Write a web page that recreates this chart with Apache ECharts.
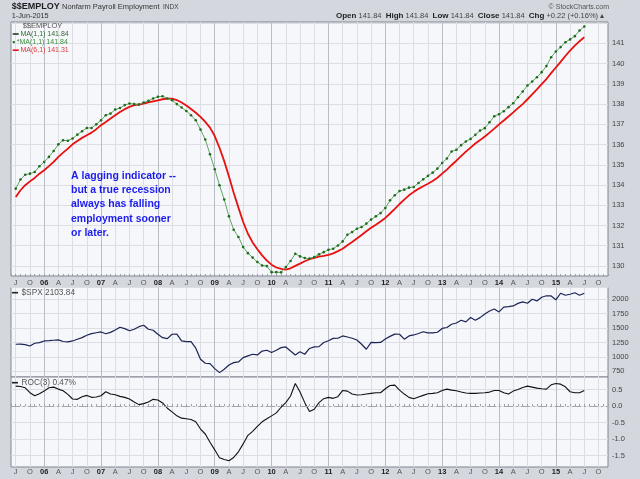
<!DOCTYPE html>
<html>
<head>
<meta charset="utf-8">
<title>$$EMPLOY Nonfarm Payroll Employment</title>
<script src="https://cdn.jsdelivr.net/npm/echarts@6/dist/echarts.min.js"></script>
<style>
  html, body { margin: 0; padding: 0; background: #d4d7de; }
  #chart { width: 640px; height: 479px; }
</style>
</head>
<body>
<div id="chart"></div>
<script>
// monthly values, first point sits on the Jul 2005 grid line, last on Jul 2015
const employment = [
  133.82, 134.27, 134.51, 134.56, 134.64, 134.93, 135.14, 135.39, 135.68, 136.01,
  136.21, 136.19, 136.30, 136.49, 136.66, 136.82, 136.82, 137.00, 137.20, 137.45,
  137.53, 137.73, 137.81, 137.95, 138.03, 138.00, 137.98, 138.08, 138.16, 138.28,
  138.36, 138.39, 138.28, 138.19, 138.00, 137.83, 137.66, 137.45, 137.20, 136.74,
  136.25, 135.52, 134.78, 133.99, 133.28, 132.45, 131.79, 131.43, 130.93, 130.63,
  130.41, 130.19, 130.02, 129.99, 129.69, 129.69, 129.68, 129.94, 130.24, 130.60,
  130.47, 130.39, 130.36, 130.44, 130.57, 130.68, 130.80, 130.85, 131.01, 131.21,
  131.54, 131.67, 131.84, 131.92, 132.09, 132.29, 132.45, 132.61, 132.86, 133.24,
  133.49, 133.70, 133.77, 133.87, 133.90, 134.10, 134.28, 134.45, 134.61, 134.81,
  135.09, 135.31, 135.66, 135.74, 135.97, 136.15, 136.28, 136.48, 136.69, 136.81,
  137.10, 137.40, 137.50, 137.65, 137.85, 138.04, 138.34, 138.62, 138.92, 139.12,
  139.33, 139.58, 139.88, 140.32, 140.60, 140.82, 141.06, 141.20, 141.36, 141.64,
  141.84
];

const ma6 = [
  133.41, 133.74, 133.99, 134.18, 134.35, 134.56, 134.73, 134.93, 135.14, 135.39,
  135.60, 135.80, 136.01, 136.18, 136.33, 136.46, 136.59, 136.76, 136.96, 137.12,
  137.29, 137.45, 137.61, 137.75, 137.86, 137.95, 137.98, 138.03, 138.08, 138.14,
  138.19, 138.24, 138.27, 138.27, 138.20, 138.08, 137.93, 137.76, 137.57, 137.37,
  137.12, 136.84, 136.42, 135.84, 135.18, 134.42, 133.62, 132.88, 132.17, 131.59,
  131.16, 130.82, 130.52, 130.26, 130.06, 129.92, 129.85, 129.81, 129.88, 130.00,
  130.11, 130.23, 130.33, 130.40, 130.46, 130.49, 130.54, 130.62, 130.73, 130.85,
  131.02, 131.18, 131.35, 131.53, 131.71, 131.89, 132.04, 132.20, 132.37, 132.59,
  132.82, 133.06, 133.28, 133.49, 133.66, 133.81, 133.94, 134.06, 134.20, 134.36,
  134.56, 134.76, 134.99, 135.20, 135.43, 135.65, 135.85, 136.05, 136.22, 136.40,
  136.59, 136.79, 137.00, 137.19, 137.39, 137.59, 137.80, 138.00, 138.24, 138.48,
  138.73, 138.99, 139.24, 139.53, 139.81, 140.09, 140.38, 140.65, 140.89, 141.11,
  141.31
];

const spx = [
  1219, 1220, 1212, 1189, 1236, 1247, 1276, 1281, 1288, 1295,
  1266, 1259, 1276, 1305, 1333, 1375, 1403, 1418, 1432, 1400,
  1425, 1465, 1514, 1490, 1452, 1479, 1524, 1549, 1479, 1462,
  1392, 1333, 1316, 1392, 1395, 1276, 1264, 1264, 1150, 958,
  889, 882, 795, 726, 785, 859, 899, 911, 986, 1016,
  1045, 1033, 1100, 1115, 1075, 1115, 1160, 1172, 1102, 1033,
  1088, 1045, 1145, 1172, 1178, 1250, 1280, 1320, 1323, 1363,
  1345, 1322, 1292, 1219, 1132, 1250, 1247, 1250, 1308, 1355,
  1395, 1392, 1307, 1363, 1380, 1405, 1435, 1415, 1415, 1427,
  1493, 1510, 1566, 1588, 1635, 1606, 1683, 1635, 1681, 1745,
  1795, 1830, 1780, 1862, 1872, 1884, 1928, 1955, 1931, 2000,
  1971, 2035, 2060, 2057, 1990, 2104, 2069, 2087, 2112, 2069,
  2103.84
];

const roc = [
  0.60, 0.59, 0.55, 0.40, 0.31, 0.37, 0.45, 0.55, 0.57, 0.51,
  0.46, 0.35, 0.21, 0.20, 0.28, 0.32, 0.26, 0.27, 0.31, 0.43,
  0.36, 0.34, 0.29, 0.26, 0.21, 0.12, 0.04, 0.07, 0.12, 0.20,
  0.18, 0.09, -0.07, -0.18, -0.30, -0.37, -0.39, -0.41, -0.48, -0.70,
  -0.85, -1.10, -1.33, -1.57, -1.62, -1.66, -1.56, -1.39, -1.15, -0.89,
  -0.77, -0.62, -0.48, -0.39, -0.30, -0.21, -0.04, 0.10, 0.30, 0.68,
  0.42, 0.10, -0.17, -0.10, 0.10, 0.22, 0.26, 0.23, 0.28, 0.47,
  0.45, 0.36, 0.33, 0.34, 0.36, 0.38, 0.40, 0.40, 0.52, 0.62,
  0.63, 0.48, 0.36, 0.26, 0.22, 0.27, 0.32, 0.37, 0.38, 0.40,
  0.47, 0.51, 0.48, 0.46, 0.42, 0.39, 0.38, 0.38, 0.39, 0.40,
  0.42, 0.47, 0.47, 0.40, 0.36, 0.45, 0.50, 0.56, 0.60, 0.57,
  0.54, 0.52, 0.51, 0.64, 0.68, 0.66, 0.58, 0.43, 0.40, 0.40,
  0.47
];

// tick labels on the right-hand axes
const mainTicks = [130, 131, 132, 133, 134, 135, 136, 137, 138, 139, 140, 141];
const spxTicks = [750, 1000, 1250, 1500, 1750, 2000];
const rocTicks = [-1.5, -1.0, -0.5, 0.0, 0.5];
const monthLetters = { 4: 'A', 7: 'J', 10: 'O' };

// axis runs Jun 2005 .. Dec 2015, one category a month
const months = [];
for (let i = 0; i < 127; i++) {
  const m = (5 + i) % 12;
  const y = 2005 + Math.floor((5 + i) / 12);
  months.push(y + '-' + String(m + 1).padStart(2, '0'));
}
const pad = (arr) => [null].concat(arr);

const FONT = '"Liberation Sans", Arial, sans-serif';
const GRID = '#dcdee4';
const YEAR_GRID = '#b9bdc6';
const NONE = 'rgba(0,0,0,0)';

function isQuarter(idx) {
  return ((5 + idx) % 12) % 3 === 0;
}

function quarterLabel(value) {
  const parts = value.split('-');
  const y = parts[0], m = Number(parts[1]);
  if (m === 1) return '{yr|' + y.slice(2) + '}';
  return monthLetters[m] || '';
}

function near(v, list) {
  return list.some((t) => Math.abs(t - v) < 1e-6);
}

function monthAxis(gridIndex, withLabels, margin) {
  return {
    type: 'category',
    gridIndex: gridIndex,
    data: months,
    boundaryGap: false,
    axisLine: { show: false },
    axisTick: {
      show: withLabels, inside: true, length: 2, interval: 0,
      lineStyle: { color: '#9aa0a8' }
    },
    axisLabel: {
      show: withLabels,
      interval: (i) => isQuarter(i),
      formatter: quarterLabel,
      margin: margin,
      fontSize: 7.5,
      fontFamily: FONT,
      color: '#555',
      rich: { yr: { fontSize: 7.5, fontWeight: 'bold', color: '#222', fontFamily: FONT } }
    },
    splitLine: {
      show: true,
      interval: (i) => isQuarter(i),
      lineStyle: { color: [GRID, GRID, YEAR_GRID, GRID], width: 1 }
    }
  };
}

function rightAxis(gridIndex, min, max, interval, colors, formatter) {
  return {
    type: 'value',
    gridIndex: gridIndex,
    position: 'right',
    min: min,
    max: max,
    interval: interval,
    axisLine: { show: false },
    axisTick: { show: false },
    axisLabel: {
      margin: 4, fontSize: 7.5, fontFamily: FONT, color: '#444',
      formatter: formatter
    },
    splitLine: { lineStyle: { color: colors, width: 1 } }
  };
}

function text(x, y, str, size, color, weight, align) {
  return {
    type: 'text', x: x, y: y, z: 100, silent: true,
    style: {
      text: str, fontSize: size, fontFamily: FONT, fill: color,
      fontWeight: weight || 'normal', align: align || 'left', verticalAlign: 'middle'
    }
  };
}

function swatch(x, y, color) {
  return {
    type: 'rect', z: 100, silent: true,
    shape: { x: x, y: y - 0.8, width: 6, height: 1.6 },
    style: { fill: color }
  };
}

const note = [
  'A lagging indicator --',
  'but a true recession',
  'always has falling',
  'employment sooner',
  'or later.'
];

const chart = echarts.init(document.getElementById('chart'));
chart.setOption({
  backgroundColor: '#d4d7de',
  animation: false,
  grid: [
    { left: 11, right: 32, top: 22, height: 254, show: true, backgroundColor: '#f6f7fa', borderColor: '#80858e', borderWidth: 1 },
    { left: 11, right: 32, top: 287.5, height: 89.5, show: true, backgroundColor: '#f6f7fa', borderColor: '#80858e', borderWidth: 1 },
    { left: 11, right: 32, top: 377, height: 90, show: true, backgroundColor: '#f6f7fa', borderColor: '#80858e', borderWidth: 1 }
  ],
  xAxis: [
    monthAxis(0, true, 3),
    monthAxis(1, false, 0),
    monthAxis(2, true, 1)
  ],
  yAxis: [
    rightAxis(0, 129.5, 142.06, 0.5, [NONE, GRID],
      (v) => near(v, mainTicks) ? String(Math.round(v)) : ''),
    rightAxis(1, 650, 2203.8, 50, [NONE, NONE, GRID, NONE, NONE],
      (v) => near(v, spxTicks) ? String(Math.round(v)) : ''),
    rightAxis(2, -1.85, 0.877, 0.05, [NONE, NONE, NONE, NONE, NONE, NONE, NONE, GRID, NONE, NONE],
      (v) => near(v, rocTicks) ? (Math.abs(v) < 1e-6 ? '0.0' : v.toFixed(1)) : '')
  ],
  series: [
    {
      name: 'MA(6,1)', type: 'line', xAxisIndex: 0, yAxisIndex: 0,
      data: pad(ma6), showSymbol: false, z: 2,
      lineStyle: { color: '#e8110f', width: 1.8 }
    },
    {
      name: 'MA(1,1)', type: 'line', xAxisIndex: 0, yAxisIndex: 0,
      data: pad(employment), symbol: 'circle', symbolSize: 2.6, showAllSymbol: true, z: 3,
      lineStyle: { color: '#62a562', width: 1 },
      itemStyle: { color: '#1d6b1d' }
    },
    {
      name: '$SPX', type: 'line', xAxisIndex: 1, yAxisIndex: 1,
      data: pad(spx), showSymbol: false,
      lineStyle: { color: '#1c2456', width: 1.2 }
    },
    {
      name: 'ROC(3)', type: 'line', xAxisIndex: 2, yAxisIndex: 2,
      data: pad(roc), showSymbol: false, z: 3,
      lineStyle: { color: '#111111', width: 1.1 },
      markLine: {
        silent: true, symbol: 'none', label: { show: false },
        lineStyle: { color: '#a3a6ad', type: [9, 3, 2, 3], width: 1 },
        data: [{ yAxis: 0 }]
      }
    }
  ],
  graphic: [
    text(11.7, 7, '$$EMPLOY', 9, '#1e1e1e', 'bold'),
    text(62, 7.2, 'Nonfarm Payroll Employment', 7.5, '#333'),
    text(163, 7.4, 'INDX', 6.5, '#444'),
    text(11.7, 16, '1-Jun-2015', 7.3, '#333'),
    text(609, 7, '\u00a9 StockCharts.com', 7, '#555', 'normal', 'right'),
    {
      type: 'text', x: 336, y: 16, z: 100, silent: true,
      style: {
        text: '{b|Open} 141.84  {b|High} 141.84  {b|Low} 141.84  {b|Close} 141.84  {b|Chg} +0.22 (+0.16%) \u25b4',
        fontSize: 7.5, fontFamily: FONT, fill: '#444', verticalAlign: 'middle',
        rich: { b: { fontSize: 8, fontWeight: 'bold', fill: '#1e1e1e', fontFamily: FONT } }
      }
    },
    text(22.7, 26, '$$EMPLOY', 7.5, '#555'),
    swatch(12.7, 34, '#1c3f1c'),
    text(20.5, 34, 'MA(1,1) 141.84', 7, '#2f6b2f'),
    { type: 'circle', z: 100, silent: true, shape: { cx: 13.8, cy: 42.1, r: 1.2 }, style: { fill: '#1d6b1d' } },
    text(16.8, 42.1, '*MA(1,1) 141.84', 7, '#3d8f3d'),
    swatch(12.7, 50.2, '#e8110f'),
    text(20.5, 50.2, 'MA(6,1) 141.31', 7, '#e03a3a'),
    swatch(12, 292.7, '#222'),
    text(21.5, 292.7, '$SPX 2103.84', 8.3, '#555'),
    swatch(12, 382.7, '#222'),
    text(21.5, 382.7, 'ROC(3) 0.47%', 8.3, '#555'),
    {
      type: 'text', x: 71, y: 169, z: 100, silent: true,
      style: {
        text: note.join('\n'), fontSize: 10.5, fontWeight: 'bold', fontFamily: FONT,
        fill: '#1c1cee', lineHeight: 14.2, verticalAlign: 'top'
      }
    }
  ]
});
</script>
</body>
</html>
